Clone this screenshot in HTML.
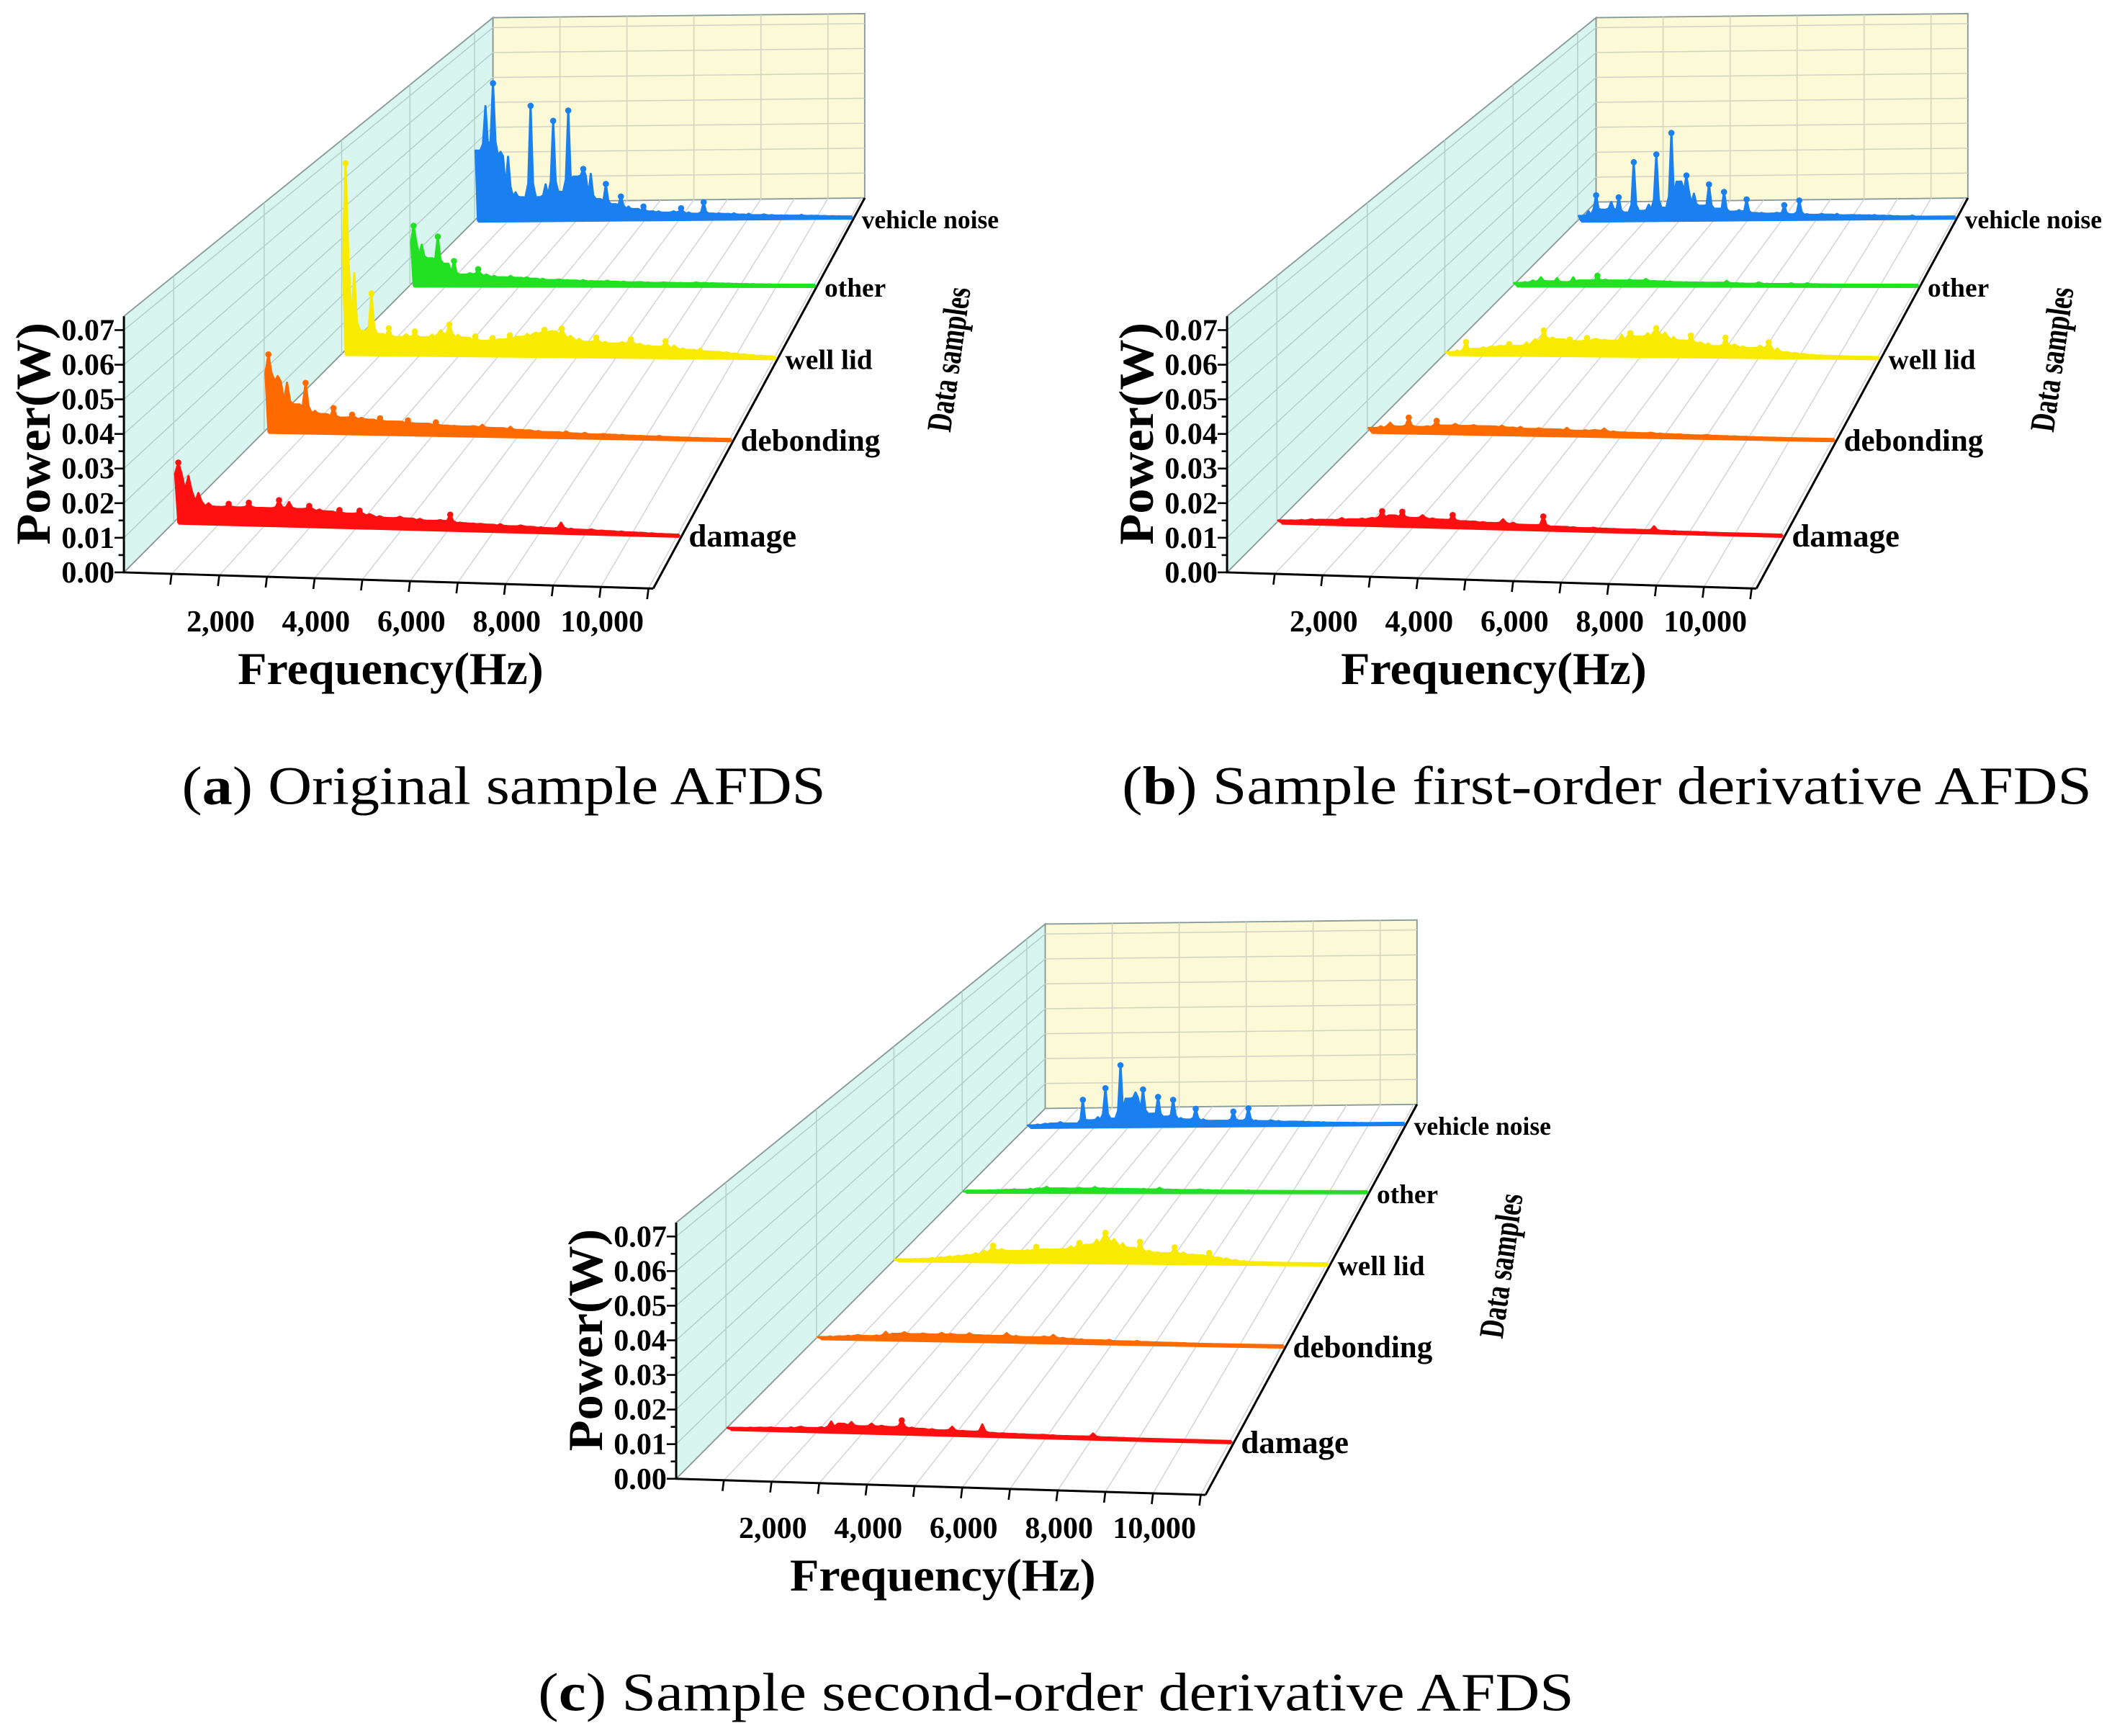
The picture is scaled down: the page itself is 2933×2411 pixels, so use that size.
<!DOCTYPE html>
<html><head><meta charset="utf-8"><title>AFDS charts</title>
<style>html,body{margin:0;padding:0;background:#fff}svg{display:block}</style></head>
<body>
<svg id="fig" xmlns="http://www.w3.org/2000/svg" width="2933" height="2411" viewBox="0 0 1568 1289" preserveAspectRatio="none" style="font-family:'Liberation Serif',serif">
<rect x="0" y="0" width="1568" height="1289" fill="#fff"/>
<text x="374" y="597" font-size="40" text-anchor="middle" textLength="478" lengthAdjust="spacingAndGlyphs">(<tspan font-weight="bold">a</tspan>) Original sample AFDS</text>
<text x="1193" y="597" font-size="40" text-anchor="middle" textLength="720" lengthAdjust="spacingAndGlyphs">(<tspan font-weight="bold">b</tspan>) Sample first-order derivative AFDS</text>
<text x="784" y="1270" font-size="40" text-anchor="middle" textLength="769" lengthAdjust="spacingAndGlyphs">(<tspan font-weight="bold">c</tspan>) Sample second-order derivative AFDS</text>
</svg>
<script>
// ---- data ----
const seriesNames = ["damage","debonding","well lid","other","vehicle noise"];
const seriesColors = ["#ff1010","#ff6a00","#f8ea00","#22e022","#1a80f0"];
const freqStart = 100, freqStep = 220;
const yTicks = [0,0.01,0.02,0.03,0.04,0.05,0.06,0.07];
const yTickLabels = ["0.00","0.01","0.02","0.03","0.04","0.05","0.06","0.07"];
const xTicks = [2000,4000,6000,8000,10000];
const xTickLabels = ["2,000","4,000","6,000","8,000","10,000"];

const aDamage = [0.018,0.014,0.009,0.006,0.005,0.006,0.005,0.0065,0.005,0.005,0.0075,0.007,0.005,0.006,0.005,0.0045,0.005,0.004,0.005,0.004,0.0035,0.003,0.0035,0.003,0.003,0.0025,0.0028,0.0045,0.0022,0.002,0.002,0.0018,0.002,0.0015,0.0018,0.0015,0.0014,0.0012,0.003,0.0012,0.001,0.0012,0.0009,0.0008,0.0008,0.0006,0.0006,0.0005,0.0004,0.0003];
const aDebonding = [0.025,0.018,0.016,0.009,0.016,0.007,0.006,0.008,0.005,0.006,0.005,0.0045,0.005,0.004,0.004,0.0045,0.0035,0.0035,0.004,0.003,0.003,0.0028,0.003,0.0035,0.0025,0.0025,0.003,0.002,0.002,0.0018,0.0015,0.0015,0.0018,0.0012,0.0015,0.001,0.0012,0.001,0.001,0.0008,0.0008,0.0007,0.0009,0.0006,0.0006,0.0005,0.0005,0.0004,0.0004,0.0003];
const aWellLid = [0.066,0.028,0.008,0.021,0.007,0.009,0.006,0.007,0.008,0.006,0.007,0.0085,0.0105,0.007,0.006,0.0065,0.005,0.006,0.0055,0.007,0.0065,0.0075,0.008,0.009,0.0085,0.0095,0.007,0.006,0.005,0.0065,0.005,0.0045,0.005,0.006,0.0045,0.004,0.0035,0.0055,0.004,0.003,0.0025,0.003,0.002,0.002,0.0018,0.0015,0.0012,0.001,0.0008,0.0006];
const aOther = [0.022,0.015,0.010,0.018,0.008,0.009,0.004,0.0045,0.006,0.004,0.0035,0.003,0.0035,0.0028,0.003,0.0025,0.0025,0.002,0.0022,0.002,0.0018,0.002,0.0016,0.0015,0.0018,0.0014,0.0015,0.0012,0.0013,0.0012,0.001,0.0012,0.001,0.001,0.0009,0.0012,0.001,0.0009,0.0008,0.0008,0.0007,0.0006,0.0006,0.0005,0.0005,0.0004,0.0004,0.0003,0.0003,0.0002];
const aVehicle = [0.0275,0.045,0.054,0.027,0.025,0.011,0.009,0.045,0.009,0.014,0.039,0.011,0.043,0.017,0.020,0.018,0.008,0.014,0.006,0.009,0.005,0.004,0.005,0.003,0.003,0.0025,0.003,0.0042,0.0025,0.002,0.0065,0.002,0.002,0.0018,0.002,0.0015,0.0018,0.0012,0.0015,0.0012,0.001,0.001,0.0009,0.0012,0.0008,0.0008,0.0007,0.0006,0.0005,0.0004];

const bDamage = [0.0006,0.0007,0.0009,0.0012,0.0011,0.0012,0.0018,0.0015,0.0018,0.0021,0.0042,0.003,0.0042,0.0024,0.0033,0.0024,0.0021,0.0036,0.0018,0.0018,0.0017,0.0015,0.0027,0.0018,0.0012,0.0012,0.0039,0.0009,0.0009,0.0009,0.0007,0.0009,0.0007,0.0007,0.0006,0.0007,0.0006,0.0018,0.0005,0.0005,0.0004,0.0004,0.0004,0.0003,0.0003,0.0002,0.0002,0.0002,0.0002,0.0001];
const bDebonding = [0.0012,0.0018,0.003,0.0018,0.0048,0.0018,0.0021,0.0039,0.0024,0.003,0.0024,0.0027,0.0024,0.0024,0.0027,0.0021,0.0024,0.0018,0.0021,0.0018,0.0018,0.0024,0.0015,0.0017,0.0018,0.0024,0.0015,0.0012,0.0012,0.0011,0.0013,0.0011,0.0009,0.0009,0.0008,0.0007,0.0009,0.0007,0.0006,0.0006,0.0005,0.0005,0.0004,0.0004,0.0004,0.0003,0.0002,0.0002,0.0002,0.0001];
const bWellLid = [0.0006,0.0012,0.0042,0.0018,0.0024,0.0027,0.003,0.0036,0.003,0.0042,0.0054,0.0084,0.006,0.0054,0.0054,0.0048,0.006,0.0057,0.0054,0.0051,0.0072,0.0078,0.0066,0.0078,0.0096,0.0081,0.0066,0.0054,0.0072,0.0048,0.0045,0.0036,0.0066,0.0042,0.0036,0.003,0.0039,0.0051,0.003,0.0018,0.0015,0.0012,0.0009,0.0007,0.0006,0.0005,0.0005,0.0004,0.0004,0.0003];
const bOther = [0.0009,0.0012,0.0018,0.003,0.0015,0.0027,0.0012,0.003,0.0018,0.0018,0.0036,0.0021,0.0018,0.0018,0.0021,0.0018,0.0024,0.0017,0.0015,0.0015,0.0012,0.0012,0.0011,0.0011,0.001,0.0011,0.0018,0.0009,0.0008,0.0007,0.0012,0.0007,0.0006,0.0006,0.0009,0.0005,0.0009,0.0005,0.0005,0.0004,0.0004,0.0004,0.0003,0.0002,0.0002,0.0002,0.0002,0.0001,0.0001,0.0001];
const bVehicle = [0.0018,0.0036,0.0099,0.0042,0.0072,0.009,0.003,0.0228,0.0036,0.006,0.0258,0.0048,0.0342,0.015,0.0174,0.0102,0.0054,0.0138,0.0042,0.0108,0.003,0.0036,0.0078,0.0024,0.0024,0.0021,0.0024,0.0054,0.0018,0.0072,0.0018,0.0015,0.0018,0.0015,0.0018,0.0012,0.0013,0.0012,0.0011,0.0012,0.0009,0.0009,0.0007,0.0006,0.0009,0.0005,0.0004,0.0004,0.0003,0.0002];

const cDamage = [0.0003,0.0004,0.0005,0.0006,0.0007,0.0006,0.0009,0.0012,0.0009,0.0012,0.003,0.0024,0.003,0.0018,0.0027,0.0021,0.0018,0.0039,0.0018,0.0015,0.0015,0.0012,0.0024,0.0012,0.0011,0.0033,0.0009,0.0008,0.0007,0.0007,0.0006,0.0007,0.0006,0.0005,0.0005,0.0005,0.0015,0.0004,0.0004,0.0004,0.0003,0.0003,0.0002,0.0002,0.0002,0.0002,0.0001,0.0001,0.0001,0.0001];
const cDebonding = [0.0003,0.0006,0.0007,0.0009,0.0012,0.0009,0.0012,0.0024,0.0018,0.0024,0.0018,0.0021,0.0018,0.0024,0.0021,0.0018,0.0024,0.0018,0.0018,0.0017,0.0027,0.0018,0.0015,0.0015,0.0018,0.0024,0.0015,0.0012,0.0011,0.0009,0.0009,0.0011,0.0007,0.0007,0.0009,0.0006,0.0006,0.0005,0.0005,0.0005,0.0004,0.0004,0.0003,0.0003,0.0002,0.0002,0.0002,0.0002,0.0001,0.0001];
const cWellLid = [0.0002,0.0003,0.0005,0.0006,0.0009,0.0012,0.0015,0.0018,0.0021,0.0027,0.0036,0.0054,0.0042,0.0036,0.0036,0.0039,0.0051,0.0042,0.0042,0.0045,0.0054,0.0066,0.006,0.0078,0.0102,0.0081,0.0066,0.0051,0.0072,0.0042,0.0036,0.0033,0.0054,0.0036,0.003,0.0027,0.0036,0.0021,0.0018,0.0012,0.0009,0.0006,0.0005,0.0005,0.0004,0.0004,0.0003,0.0002,0.0002,0.0001];
const cOther = [0.0001,0.0002,0.0004,0.0005,0.0006,0.0007,0.0009,0.0007,0.0011,0.0012,0.0018,0.0012,0.0013,0.0012,0.0015,0.0012,0.0018,0.0013,0.0012,0.0011,0.0011,0.001,0.0011,0.0009,0.0015,0.0009,0.0008,0.0007,0.0007,0.0009,0.0007,0.0006,0.0005,0.0005,0.0005,0.0006,0.0004,0.0004,0.0004,0.0003,0.0002,0.0002,0.0002,0.0002,0.0002,0.0001,0.0001,0.0001,0.0001,0.0001];
const cVehicle = [0.0006,0.0009,0.0012,0.0012,0.0018,0.0012,0.0012,0.0105,0.0024,0.0036,0.015,0.003,0.024,0.0108,0.0132,0.0144,0.0048,0.0114,0.0036,0.0102,0.003,0.0024,0.0066,0.0024,0.0018,0.0018,0.0018,0.0054,0.0018,0.0066,0.0018,0.0015,0.0018,0.0015,0.0012,0.0012,0.0012,0.0011,0.0009,0.0009,0.0007,0.0007,0.0006,0.0006,0.0005,0.0004,0.0004,0.0003,0.0002,0.0002];

const panelSeries = [
  [aDamage,aDebonding,aWellLid,aOther,aVehicle],
  [bDamage,bDebonding,bWellLid,bOther,bVehicle],
  [cDamage,cDebonding,cWellLid,cOther,cVehicle]
];

// ---- geometry ----
const NS = "http://www.w3.org/2000/svg";
const svg = document.getElementById('fig');
const panels = [{dx:0,dy:0,id:'a'},{dx:819,dy:0,id:'b'},{dx:410,dy:673,id:'c'}];
const rowDepth = [0.135,0.38,0.59,0.775,0.95];
const labelSize = [24,23,21,20,19];
const FMAX = 11100, PMAX = 0.074;
const FL=[92,425], FR=[485,437], BL=[366,150], BR=[642,147];
function fx(freq){ return freq/FMAX; }
function P(pan,f,d,p){
  const fr=[FL[0]+(FR[0]-FL[0])*f, FL[1]+(FR[1]-FL[1])*f];
  const bk=[BL[0]+(BR[0]-BL[0])*f, BL[1]+(BR[1]-BL[1])*f];
  const x=fr[0]*(1-d)+bk[0]*d, y=fr[1]*(1-d)+bk[1]*d;
  const h=(25.7-7.2*d)*p/0.01;
  return [x+pan.dx, y-h+pan.dy];
}
function mk(tag, attrs, parent){
  const e=document.createElementNS(NS,tag);
  for(const k in attrs) e.setAttribute(k,attrs[k]);
  (parent||svg).appendChild(e); return e;
}
function pts(arr){ return arr.map(p=>p[0].toFixed(1)+','+p[1].toFixed(1)).join(' '); }
function line(a,b,stroke,w,parent,name){
  const e=mk('line',{x1:a[0],y1:a[1],x2:b[0],y2:b[1],stroke:stroke,'stroke-width':w},parent);
  
  
  return e;
}

panels.forEach((pan,pi)=>{
  const g=mk('g',{});
  
  
  const side=mk('polygon',{points:pts([P(pan,0,0,PMAX),P(pan,0,1,PMAX),P(pan,0,1,0),P(pan,0,0,0)]),fill:'#d8f6ef',stroke:'#8a9a98','stroke-width':1},g);
  
  
  const back=mk('polygon',{points:pts([P(pan,0,1,PMAX),P(pan,1,1,PMAX),P(pan,1,1,0),P(pan,0,1,0)]),fill:'#fbf9d6',stroke:'#8a9a98','stroke-width':1},g);
  
  
  for(let p=0.01;p<0.0745;p+=0.01){
    line(P(pan,0,0,p),P(pan,0,1,p),'#b4cfcb',0.8,g,'side-wall-gridline');
    line(P(pan,0,1,p),P(pan,1,1,p),'#d2d2c0',0.8,g,'back-wall-gridline');
  }
  rowDepth.forEach(d=>line(P(pan,0,d,0),P(pan,0,d,PMAX),'#b4cfcb',0.8,g,'side-wall-depth-line'));
  for(let fq=2000;fq<FMAX;fq+=2000) line(P(pan,fx(fq),1,0),P(pan,fx(fq),1,PMAX),'#d2d2c0',0.8,g,'back-wall-vertical-gridline');
  for(let fq=1000;fq<FMAX;fq+=1000) line(P(pan,fx(fq),0,0),P(pan,fx(fq),1,0),'#d4d4d4',0.8,g,'floor-gridline');
  line(P(pan,0,0,0),P(pan,0,0,PMAX),'#000',1.6,g,'y-axis-line');
  line(P(pan,0,0,0),P(pan,1,0,0),'#000',1.6,g,'x-axis-line');
  line(P(pan,1,0,0),P(pan,1,1,0),'#000',1.6,g,'depth-axis-line');
  for(let k=0;k<=14;k++){
    const p=k*0.005, a=P(pan,0,0,p);
    line([a[0]-(k%2?4:7),a[1]],a,'#000',1.4,g,'y-tick');
  }
  yTicks.forEach((v,i)=>{
    const a=P(pan,0,0,v);
    const t=mk('text',{x:a[0]-7,y:a[1]+7.5,'font-size':22.5,'font-weight':'bold','text-anchor':'end'},g);
    
    
    t.textContent=yTickLabels[i];
  });
  for(let fq=1000;fq<=11000;fq+=1000){
    const a=P(pan,fx(fq),0,0);
    line(a,[a[0]-1,a[1]+8],'#000',1.4,g,'x-tick');
  }
  xTicks.forEach((v,i)=>{
    const a=P(pan,fx(v),0,0);
    const t=mk('text',{x:a[0]+1,y:P(pan,0,0,0)[1]+44,'font-size':22.5,'font-weight':'bold','text-anchor':'middle'},g);
    
    
    t.textContent=xTickLabels[i];
  });
  const o=P(pan,0,0,0);
  const yt=mk('text',{x:0,y:0,'font-size':36,'font-weight':'bold','text-anchor':'middle',textLength:165,lengthAdjust:'spacingAndGlyphs',transform:'translate('+(o[0]-55)+','+(o[1]-103)+') rotate(-90)'},g);
  
  
  yt.textContent='Power(W)';
  const xt=mk('text',{x:o[0]+198,y:o[1]+83,'font-size':34,'font-weight':'bold','text-anchor':'middle',textLength:227,lengthAdjust:'spacingAndGlyphs'},g);
  
  
  xt.textContent='Frequency(Hz)';
  const dt=mk('text',{x:0,y:0,'font-size':26,'font-weight':'bold','text-anchor':'middle',textLength:108,lengthAdjust:'spacingAndGlyphs',transform:'translate('+(o[0]+621)+','+(o[1]-157)+') rotate(-82)'},g);
  
  
  dt.textContent='Data samples';
  panelSeries[pi].forEach((vals,si)=>{
    const d=rowDepth[si], col=seriesColors[si];
    const sg=mk('g',{},g);
    
    
    const f0=fx(freqStart), f1=0.995;
    const poly=[P(pan,f0,d,0)];
    const tops=[];
    vals.forEach((v,i)=>{
      const fq=freqStart+freqStep*i;
      const lo=Math.min(v, i>0?vals[i-1]:v, i<vals.length-1?vals[i+1]:v);
      const floorV=Math.min(v, lo+ (v-lo)*0.15);
      poly.push(P(pan,fx(fq-70),d,floorV));
      const tp=P(pan,fx(fq),d,v);
      poly.push(tp);
      poly.push(P(pan,fx(fq+70),d,floorV));
      tops.push(tp);
    });
    poly.push(P(pan,f1,d,0));
    const area=mk('polygon',{points:pts(poly),fill:col,stroke:col,'stroke-width':1.6,'stroke-linejoin':'round'},sg);
    
    
    line(P(pan,f0,d,0),P(pan,f1,d,0),col,3.2,sg,'series-baseline');
    tops.forEach((p,i)=>{
      const v=vals[i];
      const peak = v>=(i>0?vals[i-1]:0) && v>=(i<vals.length-1?vals[i+1]:0);
      if(peak && v>0.0035){
        const c=mk('circle',{cx:p[0],cy:p[1],r:2.3,fill:col},sg);
        
        
      }
    });
    const e=P(pan,f1,d,0);
    const lt=mk('text',{x:e[0]+7,y:e[1]+8,'font-size':labelSize[si],'font-weight':'bold'},sg);
    
    
    lt.textContent=seriesNames[si];
  });
});
</script>
</body></html>
